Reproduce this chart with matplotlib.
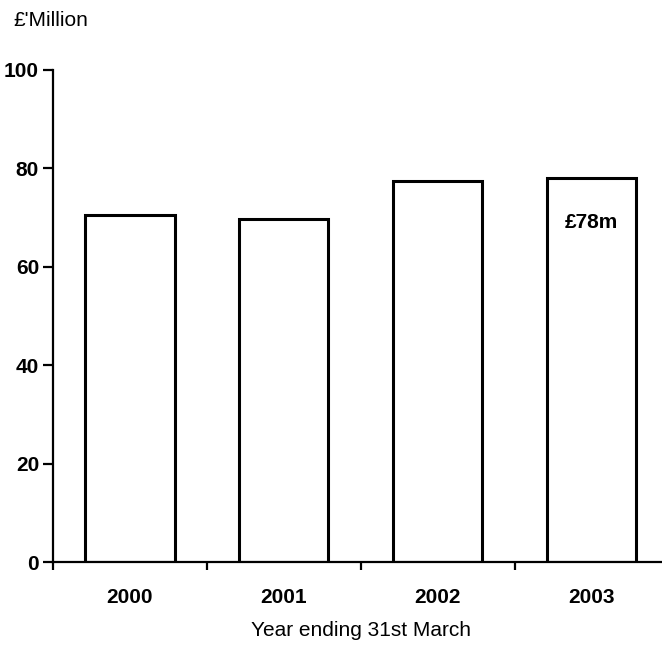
import matplotlib.pyplot as plt

# Annual figures, year ending 31st March (£ million)
years = ['2000', '2001', '2002', '2003']
values = [70.5, 69.7, 77.5, 78]
label_2003 = '£78m'

plt.rcParams['font.family'] = ['Liberation Sans', 'DejaVu Sans']

fig = plt.figure(figsize=(6.62, 6.48), dpi=100)
ax = fig.add_axes([0.080, 0.1327, 0.930, 0.7593])

x = list(range(len(years)))
bars = ax.bar(x, values, width=0.58, color='white', edgecolor='black', linewidth=2.2)

# value label inside the last bar
ax.text(x[-1], values[-1] - 9, label_2003, ha='center', va='center',
        fontsize=15, fontweight='bold')

ax.set_xlim(-0.5, 3.5)
ax.set_ylim(0, 100)

for side in ['top', 'right']:
    ax.spines[side].set_visible(False)
ax.spines['left'].set_linewidth(1.6)
ax.spines['bottom'].set_linewidth(1.6)

# y ticks
ax.set_yticks([0, 20, 40, 60, 80, 100])
ax.tick_params(axis='y', direction='out', length=7, width=1.6, pad=3,
               labelsize=15)
for lbl in ax.get_yticklabels():
    lbl.set_fontweight('bold')

# x ticks between categories, year labels at the centres
ax.set_xticks([-0.5, 0.5, 1.5, 2.5])
ax.set_xticklabels([])
ax.tick_params(axis='x', which='major', direction='out', length=6, width=1.6)
ax.set_xticks(x, minor=True)
ax.set_xticklabels(years, minor=True, fontsize=15, fontweight='bold')
ax.tick_params(axis='x', which='minor', length=0, pad=19)

ax.set_xlabel('Year ending 31st March', fontsize=15, labelpad=10)
fig.text(0.02, 0.969, "£'Million", fontsize=15, ha='left', va='center')

fig.savefig('out.png', dpi=100)
